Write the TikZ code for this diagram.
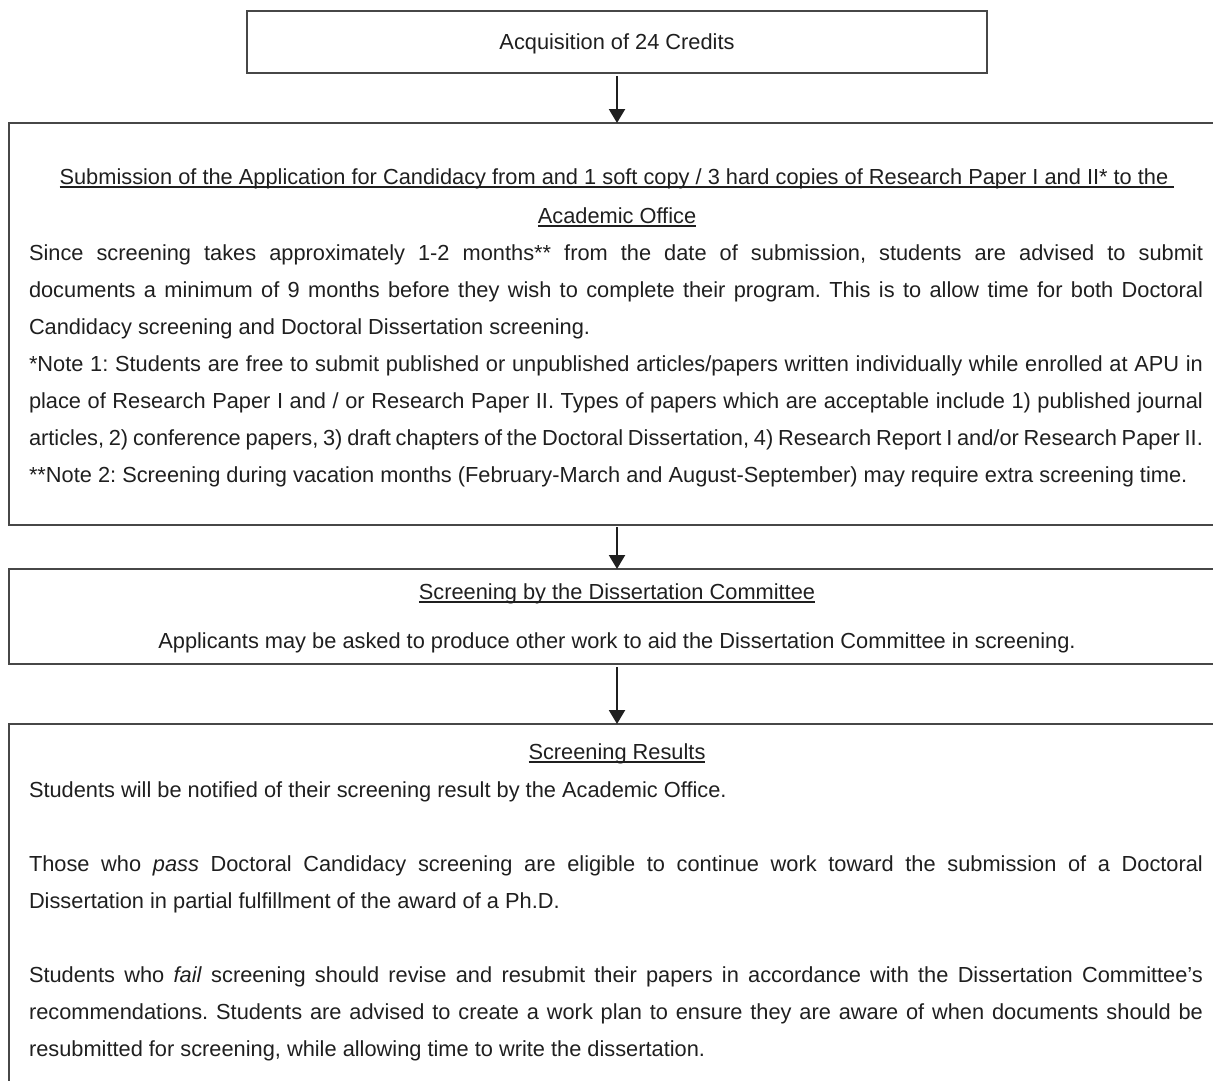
\documentclass[tikz,border=0pt]{standalone}
\usepackage{fontspec}
\setmainfont{Liberation Sans}
\usetikzlibrary{arrows.meta,calc}
\frenchspacing

% underline drawn just below the baseline, crossing descenders
\newsavebox\ulbox
\newcommand\ulin[1]{\sbox\ulbox{#1}\rlap{\rule[-3.8pt]{\wd\ulbox}{1.4pt}}\usebox\ulbox}
% a fully justified line of the body text
\newcommand\just[1]{\makebox[1174pt][s]{#1}}

\begin{document}
\begin{tikzpicture}[x=1pt,y=-1pt,
  box/.style={draw=black!72, line width=1.8pt, inner sep=0pt, outer sep=0pt, anchor=north west},
  txt/.style={inner sep=0pt, outer sep=0pt, font=\fontsize{21.8pt}{26pt}\selectfont, text=black!88},
  ln/.style={txt, anchor=base west},
  cl/.style={txt, anchor=base},
  arr/.style={line width=2.2pt, draw=black!88, -{Triangle[width=16pt,length=14pt]}}]
\useasboundingbox (0,0) rectangle (1213,1081);
\clip (0,0) rectangle (1213,1081);

% boxes (the wide ones run past the right and bottom edges)
\node[box, minimum width=740pt, minimum height=62pt]  (b1) at (247,11)  {};
\node[box, minimum width=1230pt, minimum height=402pt] (b2) at (9,123)  {};
\node[box, minimum width=1230pt, minimum height=95pt]  (b3) at (9,569)  {};
\node[box, minimum width=1230pt, minimum height=400pt] (b4) at (9,724)  {};
\coordinate (ax) at (b1.south);

% connectors
\draw[arr] ([yshift=-3pt]b1.south) -- (ax |- b2.north);
\draw[arr] ([yshift=-2pt]ax |- b2.south) -- (ax |- b3.north);
\draw[arr] ([yshift=-3pt]ax |- b3.south) -- (ax |- b4.north);

% step 1
\node[cl] (t1) at (617,50) {Acquisition of 24 Credits};

% step 2
\node[cl] (t2h1) at (617,184) {\ulin{Submission of the Application for Candidacy from and 1 soft copy / 3 hard copies of Research Paper I and II* to the\ }};
\node[cl] (t2h2) at (617,223) {\ulin{Academic Office}};
\node[ln] (t2a) at (29,260) {\just{Since screening takes approximately 1-2 months** from the date of submission, students are advised to submit}};
\node[ln] (t2b) at (29,297) {\just{documents a minimum of 9 months before they wish to complete their program. This is to allow time for both Doctoral}};
\node[ln] (t2c) at (29,334) {Candidacy screening and Doctoral Dissertation screening.};
\node[ln] (t2d) at (29,371) {\just{*Note 1: Students are free to submit published or unpublished articles/papers written individually while enrolled at APU in}};
\node[ln] (t2e) at (29,408) {\just{place of Research Paper I and / or Research Paper II. Types of papers which are acceptable include 1) published journal}};
\node[ln] (t2f) at (29,445) {\just{articles, 2) conference papers, 3) draft chapters of the Doctoral Dissertation, 4) Research Report I and/or Research Paper II.}};
\node[ln] (t2g) at (29,482) {**Note 2: Screening during vacation months (February-March and August-September) may require extra screening time.};

% step 3
\node[cl] (t3h) at (617,599) {\ulin{Screening by the Dissertation Committee}};
\node[cl] (t3a) at (617,648) {Applicants may be asked to produce other work to aid the Dissertation Committee in screening.};

% step 4
\node[cl] (t4h) at (617,759) {\ulin{Screening Results}};
\node[ln] (t4a) at (29,797) {Students will be notified of their screening result by the Academic Office.};
\node[ln] (t4b) at (29,871) {\just{Those who \textit{pass} Doctoral Candidacy screening are eligible to continue work toward the submission of a Doctoral}};
\node[ln] (t4c) at (29,908) {Dissertation in partial fulfillment of the award of a Ph.D.};
\node[ln] (t4d) at (29,982) {\just{Students who \textit{fail} screening should revise and resubmit their papers in accordance with the Dissertation Committee’s}};
\node[ln] (t4e) at (29,1019) {\just{recommendations. Students are advised to create a work plan to ensure they are aware of when documents should be}};
\node[ln] (t4f) at (29,1056) {resubmitted for screening, while allowing time to write the dissertation.};
\end{tikzpicture}
\end{document}
